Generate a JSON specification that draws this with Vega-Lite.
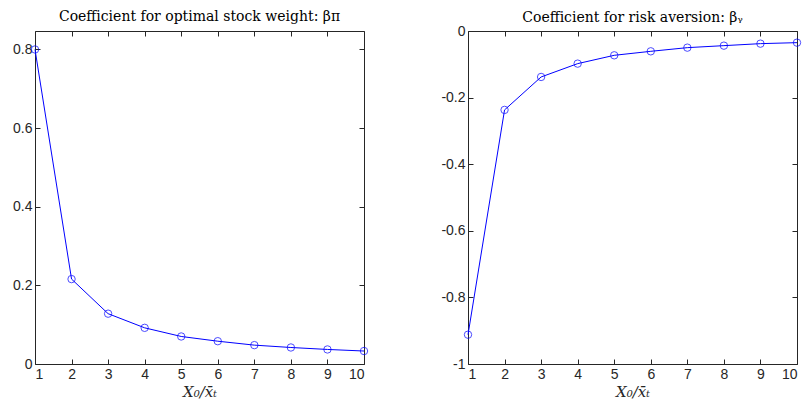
{
  "$schema": "https://vega.github.io/schema/vega-lite/v6.json",
  "padding": {"left": 12, "top": 9, "right": 0, "bottom": 0},
  "spacing": 70,
  "background": "white",
  "datasets": {
    "pi": [
      {"x": 1, "v": 0.800}, {"x": 2, "v": 0.216}, {"x": 3, "v": 0.128}, {"x": 4, "v": 0.092},
      {"x": 5, "v": 0.070}, {"x": 6, "v": 0.058}, {"x": 7, "v": 0.048}, {"x": 8, "v": 0.042},
      {"x": 9, "v": 0.037}, {"x": 10, "v": 0.033}
    ],
    "gamma": [
      {"x": 1, "v": -0.912}, {"x": 2, "v": -0.237}, {"x": 3, "v": -0.138}, {"x": 4, "v": -0.098},
      {"x": 5, "v": -0.073}, {"x": 6, "v": -0.061}, {"x": 7, "v": -0.050}, {"x": 8, "v": -0.044},
      {"x": 9, "v": -0.038}, {"x": 10, "v": -0.035}
    ]
  },
  "config": {
    "view": {"stroke": null},
    "axis": {
      "domainColor": "#262626", "tickColor": "#262626", "labelColor": "#262626",
      "labelFont": "Liberation Sans", "labelFontSize": 14, "tickSize": -5, "grid": false,
      "titleFont": "DejaVu Serif", "titleFontStyle": "italic", "titleFontWeight": "normal",
      "titleFontSize": 15, "titleColor": "#262626", "domainWidth": 1, "tickWidth": 1
    },
    "title": {"font": "DejaVu Serif", "fontSize": 14, "fontWeight": "normal", "color": "#000000", "offset": 7}
  },
  "hconcat": [
    {
      "width": 329, "height": 333,
      "title": "Coefficient for optimal stock weight: βπ",
      "data": {"name": "pi"},
      "layer": [
        {
          "mark": {"type": "line", "color": "#0000ff", "strokeWidth": 1},
          "encoding": {
            "x": {"field": "x", "type": "quantitative", "scale": {"domain": [1, 10], "nice": false},
                  "axis": {"orient": "bottom", "values": [1,2,3,4,5,6,7,8,9,10], "title": "X₀/x̄ₜ", "labelPadding": 8, "titlePadding": 3}},
            "y": {"field": "v", "type": "quantitative", "scale": {"domain": [0, 0.847], "nice": false, "zero": false},
                  "axis": {"orient": "left", "values": [0, 0.2, 0.4, 0.6, 0.8], "title": null, "labelPadding": 8, "labelExpr": "datum.value == 0 ? '0' : format(datum.value, '.1f')"}}
          }
        },
        {
          "mark": {"type": "point", "shape": "circle", "filled": false, "color": "#0000ff", "strokeWidth": 1, "size": 55},
          "encoding": {
            "x": {"field": "x", "type": "quantitative", "axis": {"orient": "top", "values": [1,2,3,4,5,6,7,8,9,10], "labels": false, "title": null}},
            "y": {"field": "v", "type": "quantitative", "axis": {"orient": "right", "values": [0, 0.2, 0.4, 0.6, 0.8], "labels": false, "title": null}}
          }
        }
      ],
      "resolve": {"axis": {"x": "independent", "y": "independent"}}
    },
    {
      "width": 329, "height": 333,
      "title": {"text": "Coefficient for risk aversion: βᵧ", "offset": -1},
      "data": {"name": "gamma"},
      "layer": [
        {
          "mark": {"type": "line", "color": "#0000ff", "strokeWidth": 1},
          "encoding": {
            "x": {"field": "x", "type": "quantitative", "scale": {"domain": [1, 10], "nice": false},
                  "axis": {"orient": "bottom", "values": [1,2,3,4,5,6,7,8,9,10], "title": "X₀/x̄ₜ", "labelPadding": 8, "titlePadding": 3}},
            "y": {"field": "v", "type": "quantitative", "scale": {"domain": [-1, 0], "nice": false, "zero": false},
                  "axis": {"orient": "left", "values": [-1, -0.8, -0.6, -0.4, -0.2, 0], "title": null, "labelPadding": 8, "labelExpr": "datum.value == 0 ? '0' : datum.value == -1 ? '-1' : replace(format(datum.value, '.1f'), '−', '-')"}}
          }
        },
        {
          "mark": {"type": "point", "shape": "circle", "filled": false, "color": "#0000ff", "strokeWidth": 1, "size": 55},
          "encoding": {
            "x": {"field": "x", "type": "quantitative", "axis": {"orient": "top", "values": [1,2,3,4,5,6,7,8,9,10], "labels": false, "title": null}},
            "y": {"field": "v", "type": "quantitative", "axis": {"orient": "right", "values": [-1, -0.8, -0.6, -0.4, -0.2, 0], "labels": false, "title": null}}
          }
        }
      ],
      "resolve": {"axis": {"x": "independent", "y": "independent"}}
    }
  ]
}
